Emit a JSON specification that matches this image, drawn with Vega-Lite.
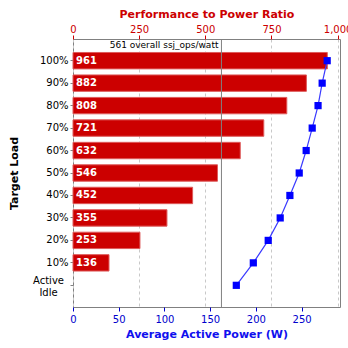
{
  "$schema": "https://vega.github.io/schema/vega-lite/v6.json",
  "width": 267,
  "height": 268,
  "autosize": {"type": "none"},
  "padding": {"left": 73, "top": 39, "right": 8, "bottom": 41},
  "background": "white",
  "config": {
    "font": "DejaVu Sans",
    "view": {"stroke": "#808080", "strokeWidth": 1}
  },
  "datasets": {
    "main": [
      {"load": "100%", "ratio": 961, "power": 278},
      {"load": "90%", "ratio": 882, "power": 272.5},
      {"load": "80%", "ratio": 808, "power": 268},
      {"load": "70%", "ratio": 721, "power": 261.6},
      {"load": "60%", "ratio": 632, "power": 255},
      {"load": "50%", "ratio": 546, "power": 247.4},
      {"load": "40%", "ratio": 452, "power": 237.2},
      {"load": "30%", "ratio": 355, "power": 226.6},
      {"load": "20%", "ratio": 253, "power": 213.5},
      {"load": "10%", "ratio": 136, "power": 197.2},
      {"load": "Active Idle", "ratio": null, "power": 178.6}
    ],
    "overall": [
      {"load": "100%", "ratio": 561, "label": "561 overall ssj_ops/watt"}
    ]
  },
  "layer": [
    {
      "encoding": {
        "x": {
          "field": "ratio",
          "type": "quantitative",
          "scale": {"domain": [0, 1009], "nice": false, "zero": true},
          "axis": {
            "orient": "top",
            "title": "Performance to Power Ratio",
            "values": [0, 250, 500, 750, 1000],
            "labelExpr": "format(datum.value, ',')",
            "grid": true,
            "gridDash": [3, 3],
            "gridColor": "#c8c8c8",
            "domain": false,
            "tickColor": "#cc0000",
            "tickSize": 4,
            "labelColor": "#cc0000",
            "labelFontSize": 10,
            "labelPadding": 1,
            "labelFlush": false,
            "labelOverlap": false,
            "titleColor": "#cc0000",
            "titleFontSize": 11,
            "titleFontWeight": "bold",
            "titlePadding": 5
          }
        }
      },
      "layer": [
        {
          "data": {"name": "main"},
          "mark": {"type": "bar", "color": "#cc0000", "stroke": "#de5a5a", "strokeWidth": 1},
          "encoding": {
            "y": {
              "field": "load",
              "type": "nominal",
              "sort": null,
              "scale": {"domain": ["100%", "90%", "80%", "70%", "60%", "50%", "40%", "30%", "20%", "10%", "Active Idle"], "paddingInner": 0.27, "paddingOuter": 0.6},
              "axis": {
                "title": "Target Load",
                "domain": false,
                "tickColor": "#808080",
                "tickSize": 3,
                "labelColor": "black",
                "labelFontSize": 10,
                "labelLineHeight": 12,
                "labelExpr": "datum.value == 'Active Idle' ? ['Active', 'Idle'] : datum.value",
                "labelAlign": {"condition": {"test": "datum.value == 'Active Idle'", "value": "center"}, "value": "right"},
                "labelOffset": {"condition": {"test": "datum.value == 'Active Idle'", "value": -4}, "value": 0},
                "labelPadding": {"condition": {"test": "datum.value == 'Active Idle'", "value": 22}, "value": 2},
                "titleFontSize": 11,
                "titleFontWeight": "bold",
                "titleColor": "black",
                "titlePadding": 13
              }
            }
          }
        },
        {
          "data": {"name": "main"},
          "transform": [{"filter": "datum.ratio != null"}],
          "mark": {"type": "text", "color": "white", "fontWeight": "bold", "fontSize": 10, "align": "left", "baseline": "middle", "dx": 3},
          "encoding": {
            "x": {"datum": 0, "type": "quantitative"},
            "y": {
              "field": "load",
              "type": "nominal",
              "sort": null,
              "scale": {"domain": ["100%", "90%", "80%", "70%", "60%", "50%", "40%", "30%", "20%", "10%", "Active Idle"], "paddingInner": 0.27, "paddingOuter": 0.6},
              "axis": {
                "title": "Target Load",
                "domain": false,
                "tickColor": "#808080",
                "tickSize": 3,
                "labelColor": "black",
                "labelFontSize": 10,
                "labelLineHeight": 12,
                "labelExpr": "datum.value == 'Active Idle' ? ['Active', 'Idle'] : datum.value",
                "labelAlign": {"condition": {"test": "datum.value == 'Active Idle'", "value": "center"}, "value": "right"},
                "labelOffset": {"condition": {"test": "datum.value == 'Active Idle'", "value": -4}, "value": 0},
                "labelPadding": {"condition": {"test": "datum.value == 'Active Idle'", "value": 22}, "value": 2},
                "titleFontSize": 11,
                "titleFontWeight": "bold",
                "titleColor": "black",
                "titlePadding": 13
              }
            },
            "text": {"field": "ratio", "type": "quantitative", "format": "d"}
          }
        },
        {
          "data": {"name": "overall"},
          "mark": {"type": "rule", "color": "#808080", "strokeWidth": 1},
          "encoding": {}
        },
        {
          "data": {"name": "overall"},
          "mark": {"type": "text", "color": "black", "fontSize": 9, "align": "right", "baseline": "bottom", "dx": -3, "dy": -2},
          "encoding": {
            "y": {
              "field": "load",
              "type": "nominal",
              "sort": null,
              "bandPosition": 0,
              "scale": {"domain": ["100%", "90%", "80%", "70%", "60%", "50%", "40%", "30%", "20%", "10%", "Active Idle"], "paddingInner": 0.27, "paddingOuter": 0.6},
              "axis": {
                "title": "Target Load",
                "domain": false,
                "tickColor": "#808080",
                "tickSize": 3,
                "labelColor": "black",
                "labelFontSize": 10,
                "labelLineHeight": 12,
                "labelExpr": "datum.value == 'Active Idle' ? ['Active', 'Idle'] : datum.value",
                "labelAlign": {"condition": {"test": "datum.value == 'Active Idle'", "value": "center"}, "value": "right"},
                "labelOffset": {"condition": {"test": "datum.value == 'Active Idle'", "value": -4}, "value": 0},
                "labelPadding": {"condition": {"test": "datum.value == 'Active Idle'", "value": 22}, "value": 2},
                "titleFontSize": 11,
                "titleFontWeight": "bold",
                "titleColor": "black",
                "titlePadding": 13
              }
            },
            "text": {"field": "label", "type": "nominal"}
          }
        }
      ]
    },
    {
      "data": {"name": "main"},
      "encoding": {
        "x": {
          "field": "power",
          "type": "quantitative",
          "scale": {"domain": [0, 292], "nice": false, "zero": true},
          "axis": {
            "orient": "bottom",
            "title": "Average Active Power (W)",
            "values": [0, 50, 100, 150, 200, 250],
            "grid": false,
            "domain": false,
            "tickColor": "#0000cc",
            "tickSize": 4,
            "labelColor": "#0000cc",
            "labelFontSize": 10,
            "labelPadding": 3,
            "labelFlush": false,
            "titleColor": "#1010ee",
            "titleFontSize": 11,
            "titleFontWeight": "bold",
            "titlePadding": 4
          }
        },
        "y": {
          "field": "load",
          "type": "nominal",
          "sort": null,
          "scale": {"domain": ["100%", "90%", "80%", "70%", "60%", "50%", "40%", "30%", "20%", "10%", "Active Idle"], "paddingInner": 0.27, "paddingOuter": 0.6},
          "axis": {
            "title": "Target Load",
            "domain": false,
            "tickColor": "#808080",
            "tickSize": 3,
            "labelColor": "black",
            "labelFontSize": 10,
            "labelLineHeight": 12,
            "labelExpr": "datum.value == 'Active Idle' ? ['Active', 'Idle'] : datum.value",
            "labelAlign": {"condition": {"test": "datum.value == 'Active Idle'", "value": "center"}, "value": "right"},
            "labelOffset": {"condition": {"test": "datum.value == 'Active Idle'", "value": -4}, "value": 0},
            "labelPadding": {"condition": {"test": "datum.value == 'Active Idle'", "value": 22}, "value": 2},
            "titleFontSize": 11,
            "titleFontWeight": "bold",
            "titleColor": "black",
            "titlePadding": 13
          }
        }
      },
      "layer": [
        {"mark": {"type": "line", "color": "#3a3aff", "strokeWidth": 1.2}},
        {"mark": {"type": "square", "color": "#0000ff", "filled": true, "opacity": 1, "size": 52}}
      ]
    }
  ],
  "resolve": {"scale": {"x": "independent"}, "axis": {"x": "independent"}}
}
